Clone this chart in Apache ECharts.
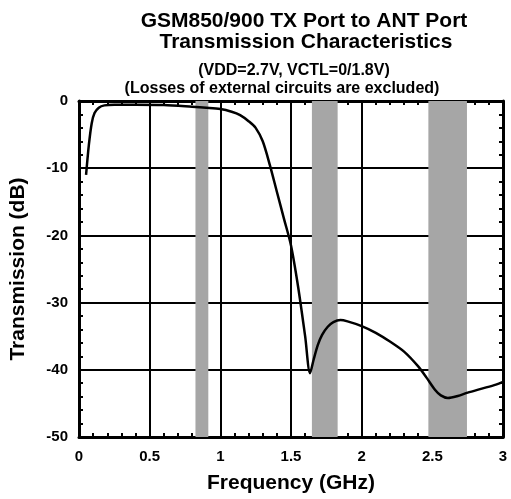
<!DOCTYPE html>
<html>
<head>
<meta charset="utf-8">
<script src="https://cdn.jsdelivr.net/npm/echarts@6/dist/echarts.min.js"></script>
<style>
  html, body { margin: 0; padding: 0; background: #fff; }
  #main { width: 511px; height: 499px; }
</style>
</head>
<body>
<div id="main"></div>
<script>
// frequency (GHz) / transmission (dB)
const freq = [0.05, 0.07, 0.09, 0.11, 0.14, 0.18, 0.25, 0.4, 0.6, 0.8, 0.9, 1.0, 1.08, 1.14, 1.2,
  1.25, 1.3, 1.35, 1.4, 1.45, 1.5, 1.55, 1.6, 1.635, 1.66, 1.69, 1.72, 1.76, 1.8, 1.85, 1.9,
  2.0, 2.1, 2.2, 2.3, 2.4, 2.46, 2.52, 2.56, 2.61, 2.68, 2.75, 2.85, 2.95, 3.0];
const trans = [-11, -6.5, -3.3, -1.8, -1.0, -0.65, -0.55, -0.55, -0.6, -0.85, -1.0, -1.2, -1.6, -2.1, -3.0,
  -4.0, -6.0, -9.5, -13.5, -17.5, -21.5, -27.6, -35, -40.5, -38.5, -36.3, -34.8, -33.6, -32.9, -32.6, -32.8,
  -33.5, -34.5, -35.8, -37.3, -39.5, -41.2, -43, -43.8, -44.2, -43.9, -43.4, -42.8, -42.2, -41.8];
// TX band and its 2nd / 3rd harmonics (GHz)
const bands = [[0.824, 0.915], [1.648, 1.83], [2.472, 2.745]];

const chart = echarts.init(document.getElementById('main'));
const font = 'Liberation Sans, Arial, sans-serif';

// onZero off, otherwise the top/right copies jump onto the 0 lines
const tickCommon = {
  axisLine: { show: true, onZero: false, lineStyle: { color: '#000', width: 3 } },
  axisTick: { show: true, inside: true, length: 6, lineStyle: { color: '#000', width: 2 } },
  minorTick: { show: true, splitNumber: 5, length: 4, lineStyle: { color: '#000', width: 2 } },
  splitLine: { show: true, lineStyle: { color: '#000', width: 2 } }
};

const option = {
  animation: false,
  backgroundColor: '#fff',
  title: [
    { text: 'GSM850/900 TX Port to ANT Port', left: 299, top: 6, textAlign: 'center',
      textStyle: { fontFamily: font, fontWeight: 'bold', fontSize: 21, color: '#000' } },
    { text: 'Transmission Characteristics', left: 301, top: 27, textAlign: 'center',
      textStyle: { fontFamily: font, fontWeight: 'bold', fontSize: 21, color: '#000' } },
    { text: '(VDD=2.7V, VCTL=0/1.8V)', left: 289, top: 58, textAlign: 'center',
      textStyle: { fontFamily: font, fontWeight: 'bold', fontSize: 16, color: '#000' } },
    { text: '(Losses of external circuits are excluded)', left: 277, top: 76, textAlign: 'center',
      textStyle: { fontFamily: font, fontWeight: 'bold', fontSize: 16, color: '#000' } }
  ],
  grid: { left: 79, right: 8, top: 101, bottom: 62 },
  xAxis: [
    Object.assign({
      type: 'value', min: 0, max: 3, interval: 0.5,
      name: 'Frequency (GHz)', nameLocation: 'middle', nameGap: 36,
      nameTextStyle: { fontFamily: font, fontWeight: 'bold', fontSize: 21, color: '#000' },
      axisLabel: { fontFamily: font, fontWeight: 'bold', fontSize: 15, color: '#000', margin: 12 }
    }, tickCommon),
    Object.assign({
      type: 'value', min: 0, max: 3, interval: 0.5, position: 'top',
      axisLabel: { show: false }
    }, tickCommon, { splitLine: { show: false } })
  ],
  yAxis: [
    Object.assign({
      type: 'value', min: -50, max: 0, interval: 10,
      name: 'Transmission (dB)', nameLocation: 'middle', nameGap: 50,
      nameTextStyle: { fontFamily: font, fontWeight: 'bold', fontSize: 21, color: '#000' },
      axisLabel: { fontFamily: font, fontWeight: 'bold', fontSize: 15, color: '#000', margin: 11 }
    }, tickCommon),
    Object.assign({
      type: 'value', min: -50, max: 0, interval: 10, position: 'right',
      axisLabel: { show: false }
    }, tickCommon, { splitLine: { show: false } })
  ],
  series: [
    {
      type: 'line',
      data: freq.map((f, i) => [f, trans[i]]),
      showSymbol: false,
      smooth: 0.3,
      lineStyle: { color: '#000', width: 2.5 },
      z: 5,
      markArea: {
        silent: true,
        itemStyle: { color: '#a6a6a6', opacity: 1 },
        data: bands.map(b => [{ xAxis: b[0] }, { xAxis: b[1] }])
      }
    }
  ]
};

chart.setOption(option);
</script>
</body>
</html>
